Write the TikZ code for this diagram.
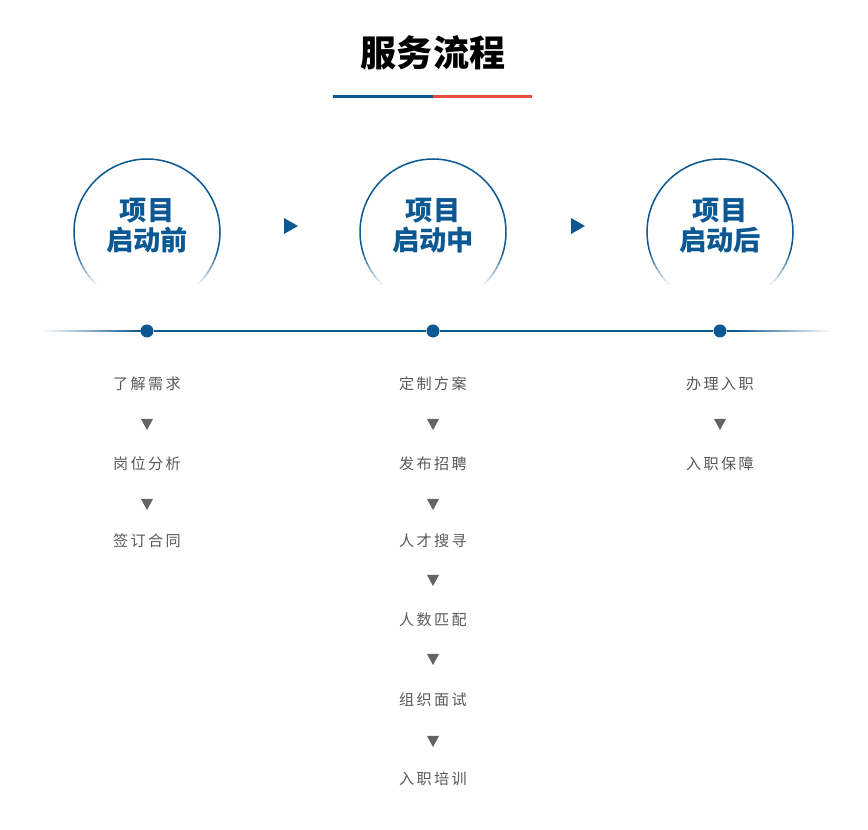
\documentclass[tikz,border=0pt]{standalone}
\usepackage{fontspec}
\setmainfont{Noto Sans CJK SC}
\newfontfamily\cjkstep[LetterSpace=16]{Noto Sans CJK SC}
\usetikzlibrary{calc}
\definecolor{flowblue}{RGB}{11,88,146}
\definecolor{flowred}{RGB}{228,77,60}
\definecolor{stepgray}{RGB}{88,88,88}
\definecolor{tripgray}{RGB}{100,100,100}

\begin{document}
\begin{tikzpicture}[x=0.2mm,y=-0.2mm,
  phase/.style={align=center,text=flowblue,font=\fontsize{15.5}{17}\selectfont\bfseries,inner sep=0pt},
  stepnode/.style={text=stepgray,font=\cjkstep\fontsize{8.6}{10}\selectfont,inner sep=0pt},
  dot/.style={circle,fill=flowblue,inner sep=0pt,minimum size=2.6mm}]
\useasboundingbox (0,0) rectangle (868,830);
% title
\node[font=\fontsize{20.5}{22}\selectfont\bfseries] (title) at (433,53) {服务流程};
\coordinate (ulA) at (333,97); \coordinate (ulM) at (433,97); \coordinate (ulB) at (532,97);
\draw[flowblue,line width=0.6mm] (ulA) -- (ulM);
\draw[flowred,line width=0.6mm] (ulM) -- (ulB);
% phase circles, faded at the bottom
\foreach \cx/\lab [count=\i] in {147/启动前,433/启动中,720/启动后}{
  \coordinate (c\i) at (\cx,232);
  \foreach \a in {-90,-86,...,266}{
    \pgfmathsetmacro\op{max(0,min(1,(0.74-sin(\a+2))/0.48))}
    \draw[flowblue,line width=0.3mm,opacity=\op] ($(c\i)+(\a:73)$) arc[start angle=\a,end angle=\a+4.2,radius=73];
  }
  \node[phase] (ph\i) at ($(c\i)+(0,-6)$) {项目\\[0pt]\lab};
}
% arrows between phases
\foreach \x/\n in {290/1,577/2}{
  \coordinate (ar\n) at (\x,226);
  \fill[flowblue] ($(ar\n)+(-6,-8)$) -- ($(ar\n)+(8,0)$) -- ($(ar\n)+(-6,8)$) -- cycle;
}
% timeline
\node[dot] (d1) at (147,331) {};
\node[dot] (d2) at (433,331) {};
\node[dot] (d3) at (720,331) {};
\coordinate (tl) at (42,331); \coordinate (tr) at (832,331);
\foreach \k in {0,...,48}{
  \pgfmathsetmacro\op{(\k+0.5)/49}
  \draw[flowblue,line width=0.45mm,opacity=\op] ($(tl)+(2*\k,0)$) -- ++(2.1,0);
  \draw[flowblue,line width=0.45mm,opacity=\op] ($(tr)+(-2*\k,0)$) -- ++(-2.1,0);
}
\draw[flowblue,line width=0.45mm] ($(tl)+(98,0)$) -- (d1) -- (d2) -- (d3) -- ($(tr)+(-98,0)$);
% steps
\node[stepnode] (s11) at (147,384) {了解需求};
\node[stepnode] (s12) at (147,464) {岗位分析};
\node[stepnode] (s13) at (147,541) {签订合同};
\node[stepnode] (s21) at (433,384) {定制方案};
\node[stepnode] (s22) at (433,464) {发布招聘};
\node[stepnode] (s23) at (433,541) {人才搜寻};
\node[stepnode] (s24) at (433,620) {人数匹配};
\node[stepnode] (s25) at (433,700) {组织面试};
\node[stepnode] (s26) at (433,779) {入职培训};
\node[stepnode] (s31) at (720,384) {办理入职};
\node[stepnode] (s32) at (720,464) {入职保障};
\foreach \x/\y in {147/424,147/504,433/424,433/504,433/580,433/659,433/741,720/424}{
  \fill[tripgray] (\x-6,\y-5) -- (\x+6,\y-5) -- (\x,\y+6) -- cycle;
}
\end{tikzpicture}
\end{document}
